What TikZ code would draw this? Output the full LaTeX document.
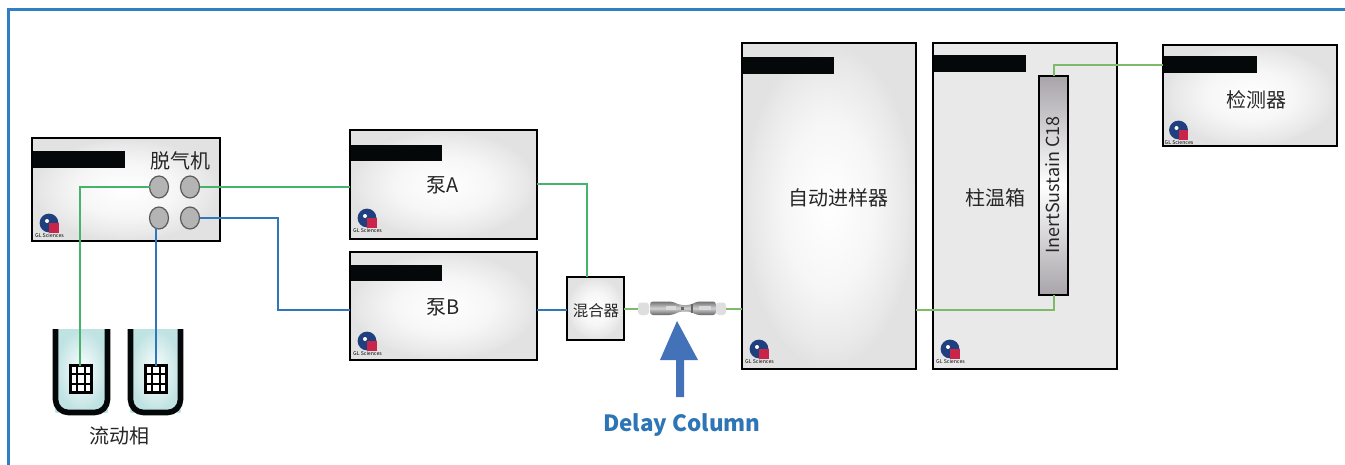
\documentclass[tikz,border=0pt]{standalone}
\usepackage{fontspec}
\setmainfont{Noto Sans CJK SC}
\usetikzlibrary{fit,shapes.geometric,calc}
\definecolor{framec}{HTML}{2F7FC4}
\definecolor{tubeg}{HTML}{45B36B}
\definecolor{tubeh}{HTML}{7FBA6A}
\definecolor{tubeb}{HTML}{2F77BD}
\definecolor{barc}{HTML}{050808}
\definecolor{portc}{HTML}{B4B4B4}
\definecolor{arrowc}{HTML}{4472B8}
\definecolor{labelc}{HTML}{2E75B6}
\definecolor{logob}{HTML}{1F3F7F}
\definecolor{logor}{HTML}{C9254A}
\definecolor{flask}{HTML}{BFE2E2}
\definecolor{colc}{HTML}{A8A4AA}
\pgfdeclareradialshading{boxglow}{\pgfpoint{0bp}{0bp}}{rgb(0bp)=(1,1,1); rgb(13bp)=(.965,.965,.965); rgb(22bp)=(.91,.91,.91); rgb(25bp)=(.885,.885,.885); rgb(50bp)=(.885,.885,.885)}
\tikzset{
  x=0.5pt,y=-0.5pt,
  frameline/.style={draw=framec,line width=1.5pt},
  instr/.style={draw=black,line width=1.2pt,inner sep=0pt,outer sep=0pt,shade,shading=boxglow},
  ovenbox/.style={draw=black,line width=1.2pt,inner sep=0pt,outer sep=0pt,fill=black!8.5},
  bar/.style={fill=barc,draw=none},
  lab/.style={font=\fontsize{10}{12}\selectfont,text=black!85,inner sep=0pt},
  port/.style={ellipse,draw=black!65,line width=.6pt,fill=portc,inner sep=0pt,outer sep=0pt,minimum width=9.5pt,minimum height=11pt},
  tubeG/.style={draw=tubeg,line width=1pt},
  tubeH/.style={draw=tubeh,line width=1pt},
  tubeB/.style={draw=tubeb,line width=1pt},
  fritbox/.style={draw=black,line width=1.3pt,fill=white,inner sep=0pt,outer sep=0pt},
  nut/.style={fill=black!13,rounded corners=1.5pt},
}
\newcommand{\glogo}[2]{%
  \fill[logob] (#1+17,#2-20) circle (4.7pt);
  \fill[white] (#1+15,#2-22) circle (1pt);
  \fill[logor] (#1+17,#2-20) rectangle (#1+26.5,#2-10);
  \node[inner sep=0pt,font=\fontsize{2.6}{3}\selectfont,text=black] at (#1+17.5,#2-7) {GL Sciences};
}
\newcommand{\flaskshape}[2]{%
  \shade[inner color=white,outer color=flask] (#1,329) -- (#1,412) -- (#2,412) -- (#2,329) -- cycle;
  \draw[line width=2.8pt,barc,rounded corners=6.5pt] (#1,329) -- (#1,412.5) -- (#2,412.5) -- (#2,329);
}
\newcommand{\fritgrid}[1]{%
  \foreach \t in {0.333,0.667} {
    \draw[black,line width=1pt] ($(#1.north west)!\t!(#1.north east)$) -- ($(#1.south west)!\t!(#1.south east)$);
    \draw[black,line width=1pt] ($(#1.north west)!\t!(#1.south west)$) -- ($(#1.north east)!\t!(#1.south east)$);
  }
}
\begin{document}
\begin{tikzpicture}
\useasboundingbox (0,0) rectangle (1345,465);
\fill[white] (0,0) rectangle (1345,465);
\draw[frameline] (8,465) -- (8,10) -- (1345,10);

% instruments
\node[instr,fit={(32,138)(220,241)}] (deg) {};
\node[instr,fit={(350,130)(537,239)}] (pumpA) {};
\node[instr,fit={(350,252)(537,360)}] (pumpB) {};
\node[instr,fit={(567,277)(624,340)}] (mix) {};
\node[instr,fit={(742,43)(916,369)}] (as) {};
\node[ovenbox,fit={(933,43)(1117,369)}] (oven) {};
\node[instr,fit={(1163,45)(1337,146)}] (det) {};

% black label bars
\fill[bar] (33,151) rectangle (125,168);
\fill[bar] (351,145) rectangle (442,161);
\fill[bar] (351,265) rectangle (442,281);
\fill[bar] (743,57) rectangle (834,74);
\fill[bar] (934,55) rectangle (1026,72);
\fill[bar] (1164,56) rectangle (1257,73);

% logos
\glogo{32}{243}
\glogo{350}{238}
\glogo{350}{361}
\glogo{742}{369}
\glogo{933}{369}
\glogo{1161.5}{150}

% texts
\node[lab] (tdeg) at (180,161) {脱气机};
\node[lab] (tA) at (443,185) {泵A};
\node[lab] (tB) at (443,307) {泵B};
\node[lab,font=\fontsize{7.7}{9}\selectfont] (tmix) at (596,311) {混合器};
\node[lab] (tas) at (838,198) {自动进样器};
\node[lab] (toven) at (995,198) {柱温箱};
\node[lab] (tdet) at (1256,100) {检测器};
\node[lab] (tmob) at (120,436) {流动相};

% ports
\node[port] (p1) at (159,187) {};
\node[port] (p2) at (190,187) {};
\node[port] (p3) at (159,218) {};
\node[port] (p4) at (190,218) {};

% bottles and frits
\flaskshape{55.5}{107.5}
\flaskshape{130.5}{180.5}
\node[fritbox,fit={(70.5,365.5)(91.5,392.5)}] (frit1) {};
\node[fritbox,fit={(145.5,365.5)(166.5,392.5)}] (frit2) {};
\fritgrid{frit1}
\fritgrid{frit2}

% column
\node[draw=black,line width=1.2pt,inner sep=0pt,outer sep=0pt,top color=colc,bottom color=colc,middle color=white,fit={(1039,76)(1068,295)}] (col) {};
\node[lab,rotate=90,font=\fontsize{9}{10}\selectfont] (tcol) at (1053,185) {InertSustain C18};

% delay column
\coordinate (delayL) at (638,309);
\coordinate (delayR) at (726,309);
\fill[nut] (638,302.5) rectangle (649,315);
\fill[nut] (716,302.5) rectangle (726,315);
\shade[top color=black!55,bottom color=black!60,middle color=black!18,rounded corners=1.5pt]
  (650,301.5) -- (672,301.5) -- (680,305) -- (690,305) -- (697,301.5) -- (716,301.5) -- (716,315) -- (697,315) -- (690,311.5) -- (680,311.5) -- (672,315) -- (650,315) -- cycle;
\fill[blue!20!black!15] (666,306) rectangle (676,310);
\fill[blue!20!black!15] (699,306) rectangle (711,310);
\fill[black!60] (691,304) rectangle (693,313);
\fill[black!60] (681,306.5) rectangle (684,310);

% arrow and its label
\fill[arrowc] (677,321) -- (698,360) -- (684,360) -- (684,397) -- (676,397) -- (676,360) -- (660,360) -- cycle;
\node[inner sep=0pt,text=labelc,font=\fontsize{11.2}{14}\selectfont\bfseries] (tdelay) at (682,425) {Delay Column};

% connection points on box edges
\coordinate (paOut) at (537,184);
\coordinate (mixIn) at (587,277);
\coordinate (bendB) at (278,264);
\coordinate (pbIn) at (350,310);
\coordinate (pbOut) at (537,310);
\coordinate (tj) at (916,309.5);
\coordinate (detIn) at (1163,65);

% tubing
\draw[tubeG] (p1.west) -| (frit1.north -| 80,0);
\draw[tubeG] (p2.east) -- (pumpA.west |- p2.east);
\draw[tubeG] (paOut) -| (mixIn);
\draw[tubeB,shorten <=-.5pt] (p3.south -| frit2.north) -- (frit2.north);
\draw[tubeB] (p4.east) -| (bendB) |- (pbIn);
\draw[tubeB] (pbOut) -- (mix.west |- pbOut);
\draw[tubeH] (mix.east |- delayL) -- (delayL);
\draw[tubeH] (delayR) -- (as.west |- delayR);
\draw[tubeH] (tj) -| (col.south);
\draw[tubeH] (col.north) |- (detIn);
\end{tikzpicture}
\end{document}
